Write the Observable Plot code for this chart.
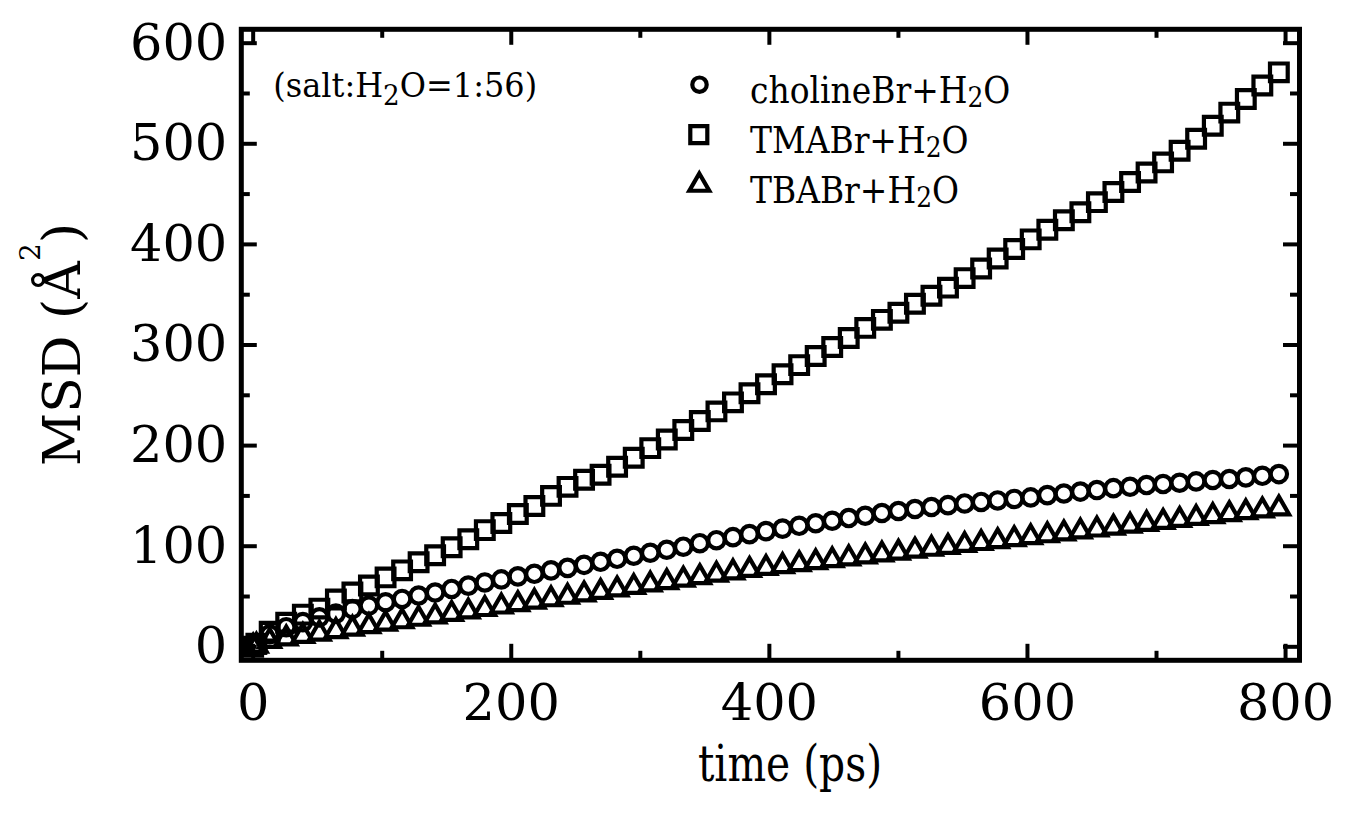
<!DOCTYPE html>
<html><head><meta charset="utf-8">
<script src="https://cdn.jsdelivr.net/npm/d3@7"></script>
<script src="https://cdn.jsdelivr.net/npm/@observablehq/plot@0.6"></script>
<style>body{margin:0;background:#fff}</style>
</head><body><div id="chart"></div>
<script>
// time (ps)
const time = [0, 2.5, 12.8, 25.6, 38.5, 51.3, 64.1, 76.9, 89.7, 102.6, 115.4, 128.2, 141.0, 153.8, 166.7, 179.5, 192.3, 205.1, 217.9, 230.8, 243.6, 256.4, 269.2, 282.0, 294.9, 307.7, 320.5, 333.3, 346.1, 359.0, 371.8, 384.6, 397.4, 410.2, 423.1, 435.9, 448.7, 461.5, 474.3, 487.2, 500.0, 512.8, 525.6, 538.4, 551.3, 564.1, 576.9, 589.7, 602.5, 615.4, 628.2, 641.0, 653.8, 666.6, 679.5, 692.3, 705.1, 717.9, 730.7, 743.6, 756.4, 769.2, 782.0, 794.8];
// MSD (Å^2)
const cholineBr = [0, 2.5, 12.5, 19.5, 24.5, 29.3, 33, 37.5, 41, 44.3, 47.6, 51, 54, 57.5, 60.8, 64, 67, 70, 72.6, 76, 78.5, 81.5, 84.5, 87.5, 90.5, 93.5, 96.5, 99.5, 103, 106, 109, 112, 115, 117.5, 120.3, 122.8, 125.3, 128, 130.3, 133, 135, 137, 139, 140.8, 142.5, 144, 145.5, 147, 148.5, 150.8, 152.4, 154.3, 155.8, 157.7, 159.1, 160.8, 161.8, 163.1, 164.4, 165.8, 166.8, 168.4, 170, 171.7];
const tmaBr = [0, 3, 15, 24, 32, 38, 47, 54, 61, 69, 76, 84, 91, 99, 107, 116, 123, 132, 140, 150, 159, 166, 171, 179, 188, 197.5, 206, 215.5, 224.5, 234, 243, 252, 261, 271, 280, 289, 298, 307, 317, 325, 332, 341, 349, 357, 366.5, 376, 386, 395.5, 405, 414.5, 424, 432, 442, 452, 462, 471.5, 481.5, 493, 505, 518, 531, 544.5, 558, 571];
const tbaBr = [0, 1, 5.8, 8.3, 10.7, 13.1, 15.6, 18, 20.4, 22.9, 25.3, 27.8, 30.2, 32.6, 35.1, 37.5, 40, 42.4, 44.8, 47.2, 49.7, 52.1, 54.5, 57, 59.4, 61.9, 64.3, 66.7, 69.2, 71.6, 74, 76.4, 78.3, 80.2, 82.1, 84, 86, 87.9, 89.8, 91.7, 93.6, 95.5, 97.4, 99.3, 101.2, 103.1, 105, 107, 108.9, 110.8, 112.7, 114.6, 116.5, 118.4, 120.3, 122.2, 124.1, 126.1, 128, 129.9, 131.8, 133.7, 135.6, 137.5];

const xMajor = [0, 200, 400, 600, 800];
const xMinor = [100, 300, 500, 700];
const yMajor = [0, 100, 200, 300, 400, 500, 600];
const yMinor = [50, 150, 250, 350, 450, 550];
const seriesLabels = ["cholineBr+H", "TMABr+H", "TBABr+H"];
const noteLabel = ["(salt:H", "2", "O=1:56)"];

const rows = vals => time.map((t, i) => ({t, msd: vals[i]}));

const W = 1349, H = 819, mL = 240.8, mR = 50, mT = 28.8, mB = 159.2;
const innerW = W - mL - mR, innerH = H - mT - mB;
const mk = {stroke: "black", strokeWidth: 4.2, fill: "none"};
const tk = {stroke: "black", strokeWidth: 4};
const FONT = "DejaVu Serif";

const plot = Plot.plot({
  width: W, height: H,
  marginLeft: mL, marginRight: mR, marginTop: mT, marginBottom: mB,
  style: {fontFamily: FONT, background: "white", color: "black"},
  x: {domain: [-9.2, 810.8]},
  y: {domain: [-13.4, 613.8]},
  marks: [
    Plot.dot(rows(tmaBr), {x: "t", y: "msd", symbol: "square", r: 10, ...mk}),
    Plot.dot(rows(cholineBr), {x: "t", y: "msd", symbol: "circle", r: 8.2, ...mk}),
    Plot.dot(rows(tbaBr), {x: "t", y: "msd", symbol: "triangle", r: 7.6, ...mk}),
    // inward ticks on all four sides
    Plot.tickX(xMajor, {x: d => d, insetTop: innerH - 16, ...tk}),
    Plot.tickX(xMajor, {x: d => d, insetBottom: innerH - 16, ...tk}),
    Plot.tickX(xMinor, {x: d => d, insetTop: innerH - 9, ...tk}),
    Plot.tickX(xMinor, {x: d => d, insetBottom: innerH - 9, ...tk}),
    Plot.tickY(yMajor, {y: d => d, insetRight: innerW - 16, ...tk}),
    Plot.tickY(yMajor, {y: d => d, insetLeft: innerW - 16, ...tk}),
    Plot.tickY(yMinor, {y: d => d, insetRight: innerW - 9, ...tk}),
    Plot.tickY(yMinor, {y: d => d, insetLeft: innerW - 9, ...tk}),
    Plot.axisX({ticks: xMajor, tickSize: 0, tickPadding: 23, fontSize: 51, label: null, tickFormat: d3.format("d"), fontFamily: FONT}),
    Plot.axisY({ticks: yMajor, tickSize: 0, tickPadding: 14, fontSize: 51, label: null, tickFormat: d3.format("d"), fontFamily: FONT}),
    Plot.frame({stroke: "black", strokeWidth: 5}),
    // legend symbols
    Plot.dot([0], {x: null, y: null, frameAnchor: "top-left", dx: 458.2, dy: 55.4, symbol: "circle", r: 7.2, ...mk}),
    Plot.dot([0], {x: null, y: null, frameAnchor: "top-left", dx: 457.5, dy: 105.4, symbol: "square", r: 9.6, ...mk}),
    Plot.dot([0], {x: null, y: null, frameAnchor: "top-left", dx: 458, dy: 155.7, symbol: "triangle", r: 7.4, ...mk})
  ]
});

const svg = d3.select(plot);
const addText = (tx, ty, size, sx, anchor = "start") => svg.append("text")
  .attr("transform", `translate(${tx},${ty}) scale(${sx},1)`)
  .attr("text-anchor", anchor)
  .attr("font-family", FONT).attr("font-size", size).attr("fill", "black");

// x label
addText(790, 781, 51, 0.8, "middle").text("time (ps)");

// y label
const yl = svg.append("text")
  .attr("transform", "translate(80,344.5) rotate(-90)")
  .attr("text-anchor", "middle")
  .attr("font-family", FONT).attr("font-size", 52).attr("fill", "black");
yl.append("tspan").text("MSD (Å");
yl.append("tspan").attr("font-size", 28).attr("dy", -40).text("2");
yl.append("tspan").attr("dy", 40).text(")");

// annotation
const note = addText(273.3, 97.3, 33, 0.97);
note.append("tspan").text(noteLabel[0]);
note.append("tspan").attr("font-size", 27).attr("dy", 8).text(noteLabel[1]);
note.append("tspan").attr("dy", -8).text(noteLabel[2]);

// legend labels
const baselines = [103.3, 153.3, 203.3];
seriesLabels.forEach((lab, i) => {
  const t = addText(750, baselines[i], 37, 0.89);
  t.append("tspan").text(lab);
  t.append("tspan").attr("font-size", 28).attr("dy", 4).text("2");
  t.append("tspan").attr("dy", -4).text("O");
});

document.getElementById("chart").appendChild(plot);
</script>
</body></html>
